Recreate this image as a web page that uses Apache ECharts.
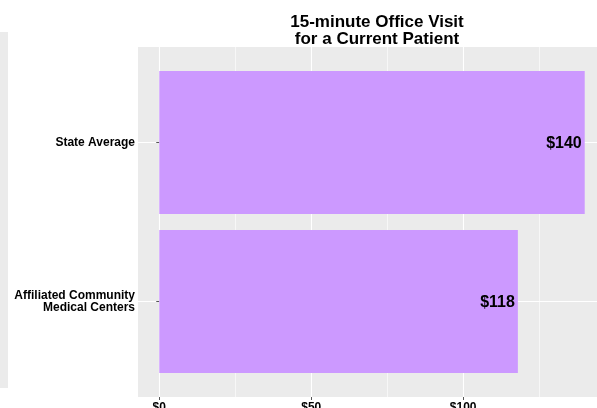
<!DOCTYPE html>
<html>
<head>
<meta charset="utf-8">
<script src="https://cdn.jsdelivr.net/npm/echarts@6/dist/echarts.min.js"></script>
<style>
  html, body { margin: 0; padding: 0; background: #fff; }
  #chart { width: 597px; height: 408px; }
</style>
</head>
<body>
<div id="chart"></div>
<script>
// data
const categories = ['State Average', 'Affiliated Community\nMedical Centers'];
const costs = [140, 118];
const majorTicks = [0, 50, 100];
const minorTicks = [25, 75, 125];
const rowLines = [1, 2];

// ggplot-like 5% expansion around 0..140
const xMin = -7;
const xMax = 147;

const font = '"Liberation Sans", Arial, sans-serif';
const panelGrey = '#EBEBEB';

const chart = echarts.init(document.getElementById('chart'));

chart.setOption({
  animation: false,
  textStyle: { fontFamily: font },
  title: {
    text: '15-minute Office Visit\nfor a Current Patient',
    left: 372,
    top: 9,
    textAlign: 'center',
    textStyle: { fontSize: 17, fontWeight: 'bold', color: '#000', lineHeight: 17, fontFamily: font }
  },
  // strip of the neighbouring panel on the far left
  graphic: [{
    type: 'rect',
    shape: { x: 0, y: 32, width: 8, height: 356 },
    style: { fill: panelGrey },
    silent: true
  }],
  grid: [
    // panel background + grid lines
    { left: 138, top: 47, width: 468, height: 350, show: true, backgroundColor: panelGrey, borderWidth: 0, outerBoundsMode: 'none' },
    // bars
    { left: 138, top: 63, width: 468, height: 318, outerBoundsMode: 'none' }
  ],
  xAxis: [
    {
      gridIndex: 0, type: 'value', min: xMin, max: xMax,
      axisLine: { show: false },
      axisTick: { show: true, length: 3, customValues: majorTicks, lineStyle: { color: '#555' } },
      axisLabel: {
        customValues: majorTicks, margin: 5,
        formatter: v => '$' + v,
        fontSize: 12, fontWeight: 'bold', color: '#000', fontFamily: font
      },
      splitLine: { show: true, lineStyle: { color: '#fff', width: 1.1 } }
    },
    {
      gridIndex: 0, type: 'value', min: xMin, max: xMax,
      axisLine: { show: false },
      axisTick: { show: false, customValues: minorTicks },
      axisLabel: { show: false },
      splitLine: { show: true, lineStyle: { color: '#fff', width: 0.6 } }
    },
    {
      gridIndex: 1, type: 'value', min: xMin, max: xMax, show: false
    }
  ],
  yAxis: [
    {
      gridIndex: 0, type: 'value', inverse: true, min: 0.4, max: 2.6,
      axisLine: { show: false },
      axisTick: { show: false, customValues: rowLines },
      axisLabel: { show: false },
      splitLine: { show: true, lineStyle: { color: '#fff', width: 1.1 } }
    },
    {
      gridIndex: 1, type: 'category', inverse: true, data: categories,
      axisLine: { show: false },
      axisTick: { show: true, alignWithLabel: true, length: 3, lineStyle: { color: '#555' } },
      axisLabel: {
        margin: 3, fontSize: 12, fontWeight: 'bold', color: '#000',
        lineHeight: 12, align: 'right', fontFamily: font,
        padding: [3, 0, 0, 0]
      },
      splitLine: { show: false }
    }
  ],
  series: [{
    type: 'bar',
    xAxisIndex: 2,
    yAxisIndex: 1,
    data: costs,
    barWidth: '90%',
    itemStyle: { color: '#CC99FF' },
    label: {
      show: true,
      position: 'insideRight',
      distance: 3,
      offset: [0, 1],
      formatter: p => '$' + p.value,
      fontSize: 16, fontWeight: 'bold', color: '#000', fontFamily: font
    }
  }]
});
</script>
</body>
</html>
